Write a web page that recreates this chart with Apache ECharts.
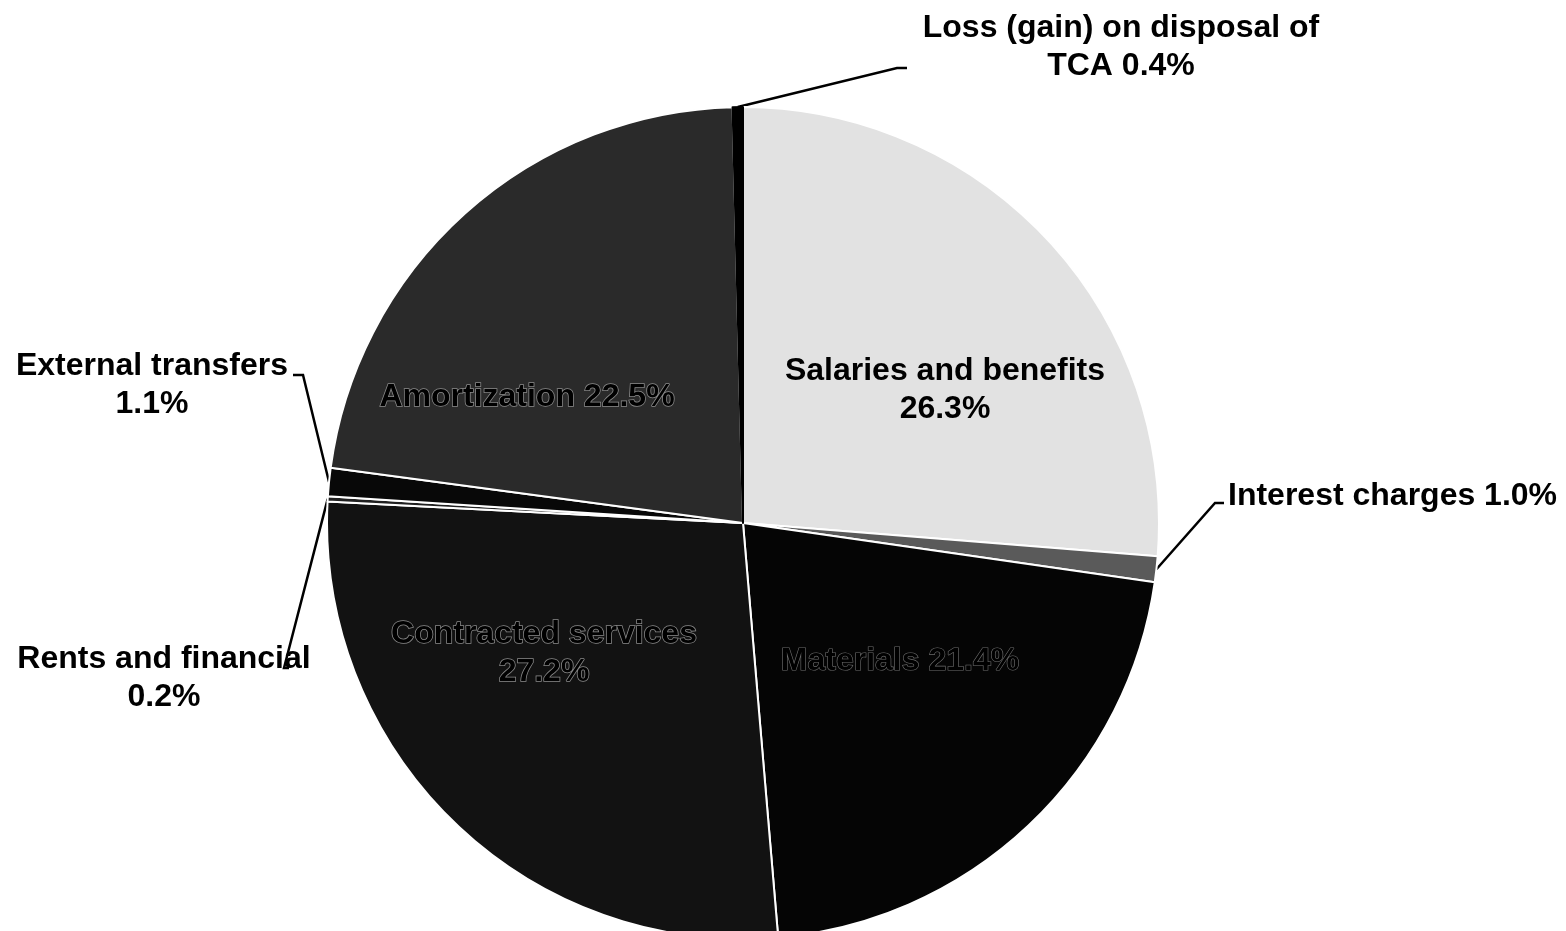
<!DOCTYPE html>
<html>
<head>
<meta charset="utf-8">
<script src="https://cdn.jsdelivr.net/npm/echarts/dist/echarts.min.js"></script>
<style>
  html, body { margin: 0; padding: 0; background: #fff; }
  #chart { width: 1566px; height: 931px; }
</style>
</head>
<body>
<div id="chart"></div>
<script>
// ---- data (clockwise from 12 o'clock) ----
const categories = [
  'Salaries and benefits',
  'Interest charges',
  'Materials',
  'Contracted services',
  'Rents and financial',
  'External transfers',
  'Amortization',
  'Loss (gain) on disposal of TCA'
];
const shares = [26.3, 1.0, 21.4, 27.2, 0.2, 1.1, 22.5, 0.4];

// ---- presentation ----
const sliceColors = ['#e2e2e2', '#5a5a5a', '#050505', '#121212', '#202020', '#080808', '#2a2a2a', '#000000'];
const labelText = [
  'Salaries and benefits\n{v}%',
  'Interest charges {v}%',
  'Materials {v}%',
  'Contracted services\n{v}%',
  'Rents and financial\n{v}%',
  'External transfers\n{v}%',
  'Amortization {v}%',
  'Loss (gain) on disposal of\nTCA {v}%'
];
const insideLabel = [true, false, true, true, false, false, true, false];
const CX = 743, CY = 523, R = 416;

// label anchor and leader-line layout (pixels)
const labelLayoutCfg = [
  { x: 945, y: 390, align: 'center' },
  { x: 1228, y: 496, align: 'left', bend: [1215, 503], end: [1224, 503] },
  { x: 900, y: 661, align: 'center' },
  { x: 544, y: 653, align: 'center' },
  { x: 164, y: 678, align: 'center', bend: [284, 668], end: [289, 668] },
  { x: 152, y: 385, align: 'center', bend: [303, 375], end: [293, 375] },
  { x: 527, y: 397, align: 'center' },
  { x: 1121, y: 47, align: 'center', bend: [897, 68], end: [907, 68] }
];
const outlineStyle = [
  null,
  null,
  { textBorderColor: '#6e6e6e', textBorderWidth: 1.2 },
  { textBorderColor: '#8a8a8a', textBorderWidth: 1.5 },
  null,
  null,
  { textBorderColor: '#8c8c8c', textBorderWidth: 1.5 },
  null
];

const total = shares.reduce((a, b) => a + b, 0);
function edgePoint(i) {
  let before = 0;
  for (let k = 0; k < i; k++) before += shares[k];
  const mid = (before + shares[i] / 2) / total * Math.PI * 2;
  return [CX + R * Math.sin(mid), CY - R * Math.cos(mid)];
}

const font = {
  fontFamily: '"Liberation Sans", Arial, sans-serif',
  fontWeight: 'bold',
  fontSize: 32,
  lineHeight: 38,
  color: '#000'
};

const data = categories.map((name, i) => {
  const lbl = Object.assign({}, font, {
    show: true,
    position: insideLabel[i] ? 'inside' : 'outside',
    formatter: labelText[i].replace('{v}', shares[i].toFixed(1))
  }, outlineStyle[i] || {});
  return {
    name: name,
    value: shares[i],
    itemStyle: {
      color: sliceColors[i],
      borderColor: i === 7 ? '#000' : '#fff',
      borderWidth: 2
    },
    label: lbl,
    labelLine: {
      show: !insideLabel[i],
      length: 10,
      length2: 10,
      lineStyle: { color: '#000', width: 2.5 }
    }
  };
});

const chart = echarts.init(document.getElementById('chart'), null, { renderer: 'canvas' });
chart.setOption({
  animation: false,
  backgroundColor: '#fff',
  series: [{
    type: 'pie',
    center: [CX, CY],
    radius: R,
    startAngle: 90,
    clockwise: true,
    avoidLabelOverlap: false,
    data: data,
    emphasis: { disabled: true },
    labelLayout: function (params) {
      const cfg = labelLayoutCfg[params.dataIndex];
      const out = { x: cfg.x, y: cfg.y, align: cfg.align, verticalAlign: 'middle' };
      if (cfg.bend) {
        out.labelLinePoints = [edgePoint(params.dataIndex), cfg.bend, cfg.end];
      }
      return out;
    }
  }]
});
</script>
</body>
</html>
